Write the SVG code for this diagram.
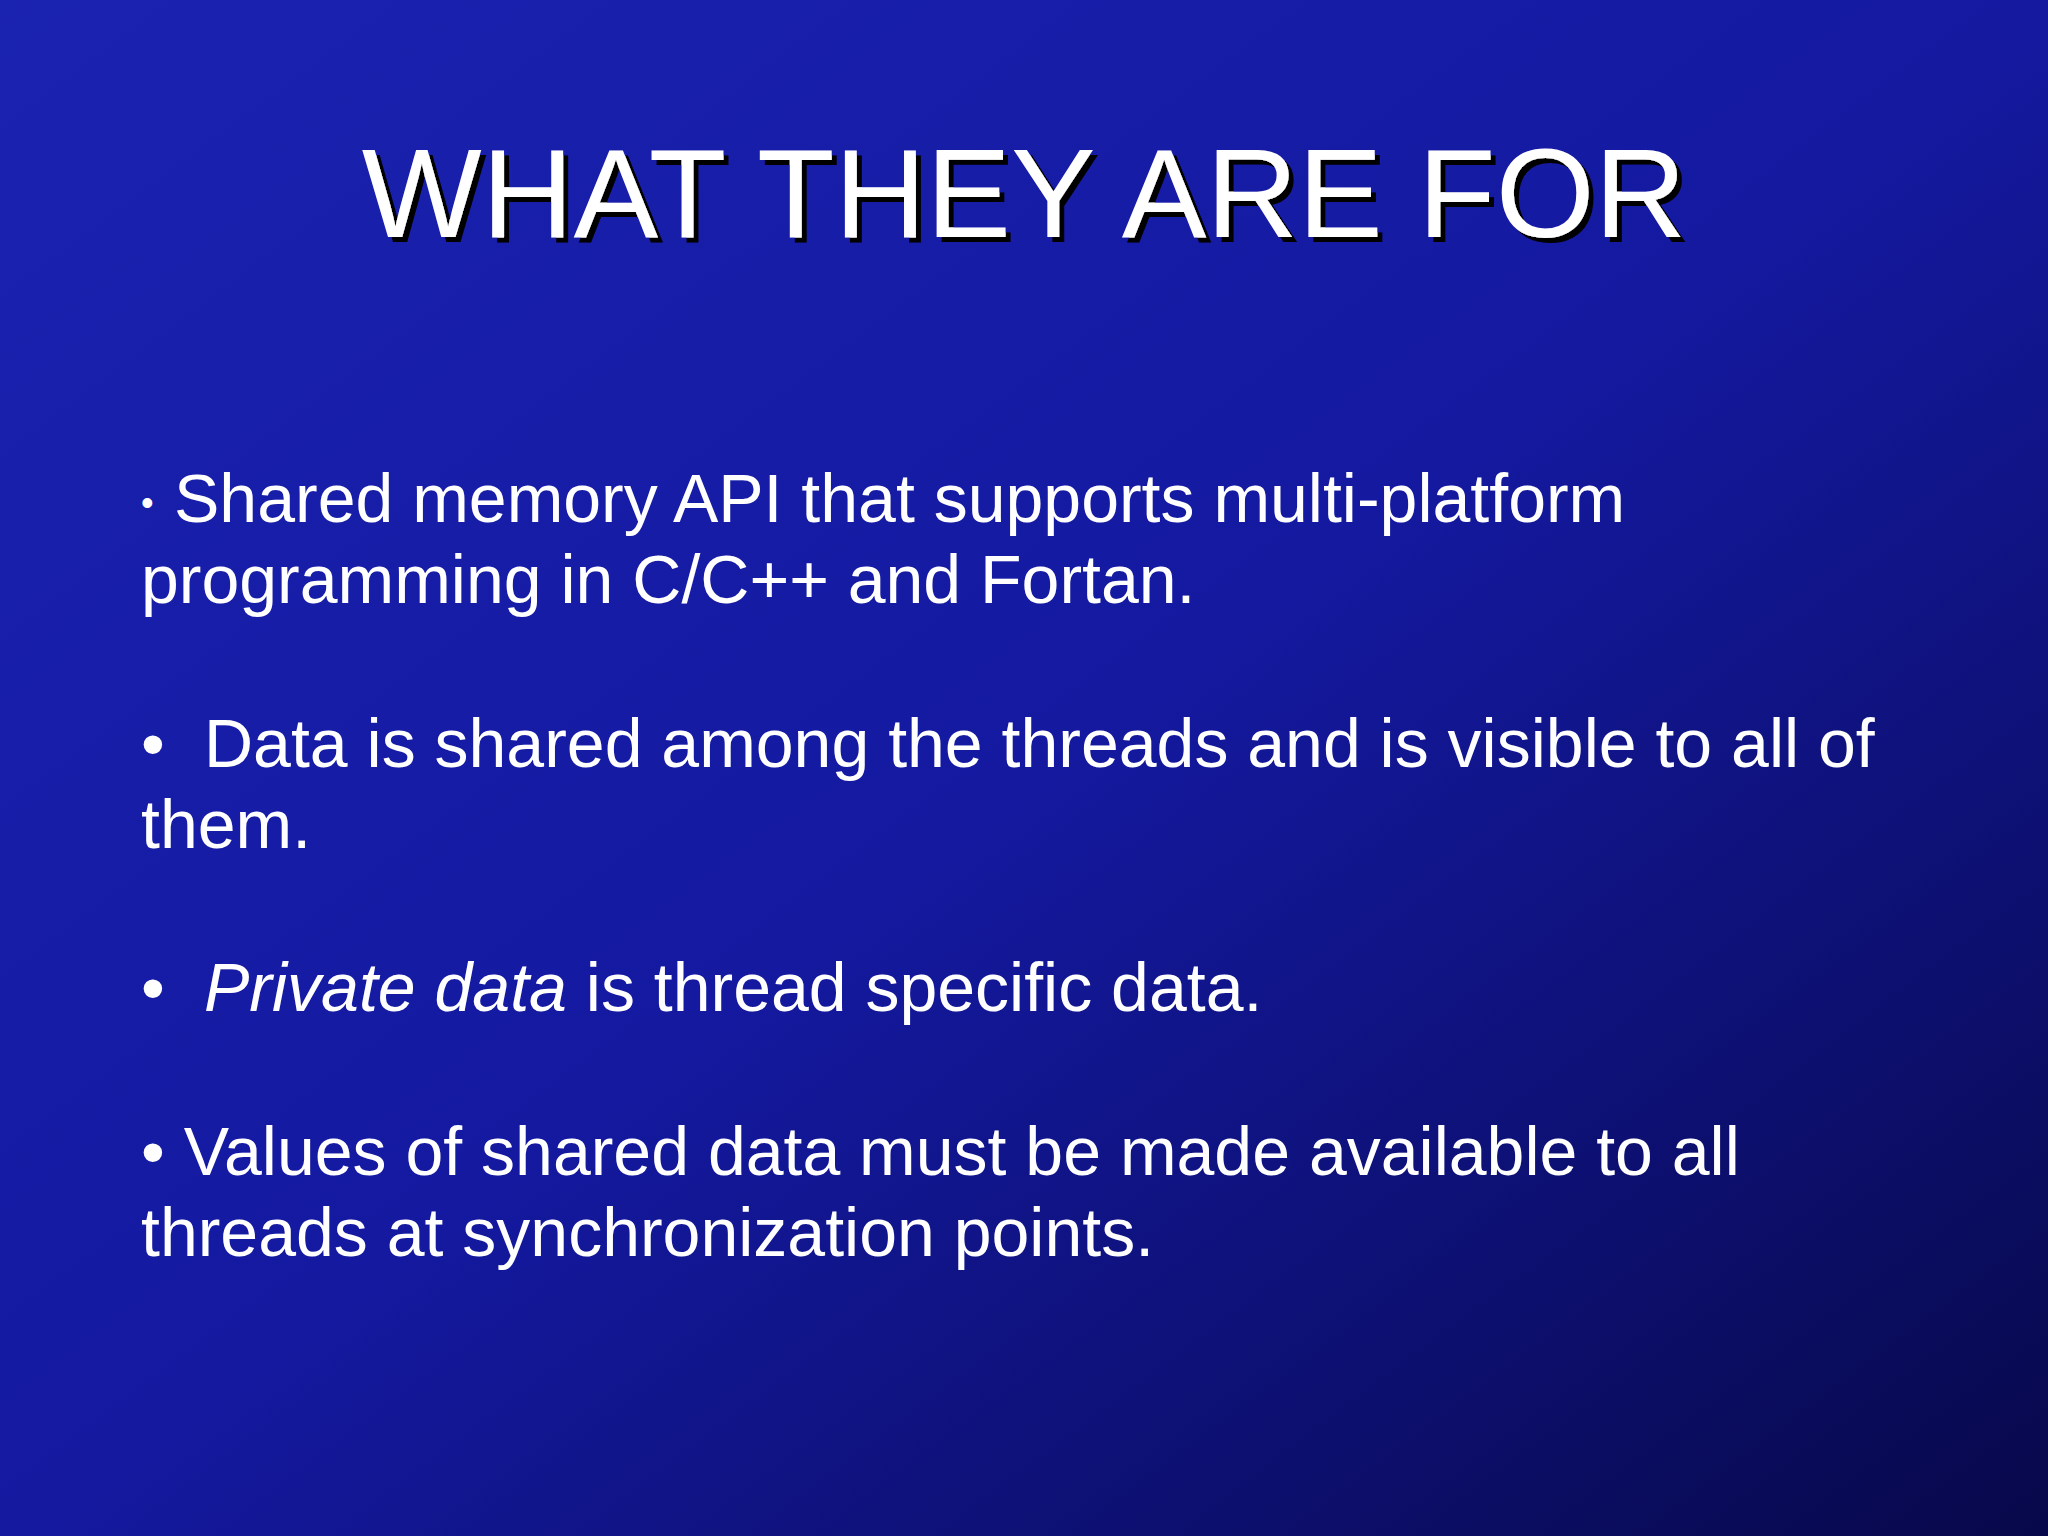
<svg xmlns="http://www.w3.org/2000/svg" width="2048" height="1536" viewBox="0 0 2048 1536">
<defs>
<linearGradient id="bg" x1="0" y1="0" x2="1" y2="1">
<stop offset="0" stop-color="#1a22b0"/>
<stop offset="0.5" stop-color="#1419a0"/>
<stop offset="1" stop-color="#07084a"/>
</linearGradient>
<filter id="sh" x="-5%" y="-20%" width="110%" height="140%">
<feDropShadow dx="5" dy="5" stdDeviation="0" flood-color="#000"/>
</filter>
</defs>
<style>
.t{font-family:"Liberation Sans",Arial,sans-serif;fill:#fff}
.b{font-size:68px}
</style>
<rect width="2048" height="1536" fill="url(#bg)"/>
<g id="title">
<text class="t" x="1024" y="237" text-anchor="middle" font-size="127" filter="url(#sh)">WHAT THEY ARE FOR</text>
</g>
<g id="body">
<text class="t" x="141" y="515" font-size="36">•</text>
<text class="t b" x="174" y="522">Shared memory API that supports multi-platform</text>
<text class="t b" x="141" y="603">programming in C/C++ and Fortan.</text>
<text class="t b" x="141" y="767">•</text>
<text class="t b" x="204" y="767">Data is shared among the threads and is visible to all of</text>
<text class="t b" x="141" y="848">them.</text>
<text class="t b" x="141" y="1011">•</text>
<text class="t b" x="204" y="1011"><tspan font-style="italic">Private data</tspan> is thread specific data.</text>
<text class="t b" x="141" y="1175">• Values of shared data must be made available to all</text>
<text class="t b" x="141" y="1256">threads at synchronization points.</text>
</g>
</svg>
